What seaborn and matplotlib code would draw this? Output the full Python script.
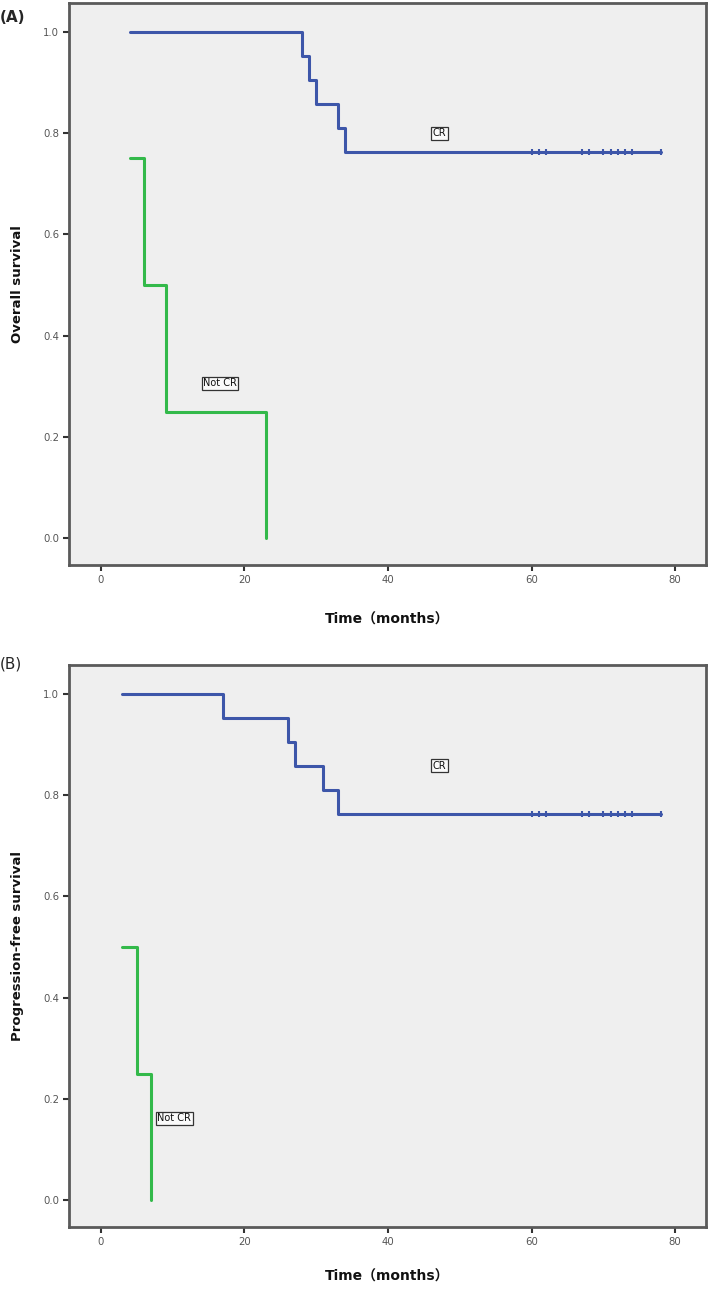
import matplotlib
matplotlib.use("Agg")
import matplotlib.pyplot as plt
import seaborn as sns
import pandas as pd

# ---- data ----
# Panel A: overall survival
os_cr_time = [4, 28, 29, 30, 33, 34, 78]
os_cr_surv = [1.0, 0.952, 0.905, 0.857, 0.810, 0.762, 0.762]
os_ncr_time = [4, 6, 9, 23]
os_ncr_surv = [0.75, 0.50, 0.25, 0.0]

# Panel B: progression-free survival
pfs_cr_time = [3, 17, 26, 27, 31, 33, 78]
pfs_cr_surv = [1.0, 0.952, 0.905, 0.857, 0.810, 0.762, 0.762]
pfs_ncr_time = [3, 5, 7]
pfs_ncr_surv = [0.50, 0.25, 0.0]

# censored observations (CR group, both panels)
censor_time = [60, 61, 62, 67, 68, 70, 71, 72, 73, 74, 78]
censor_surv = 0.762

x_ticks = [0, 20, 40, 60, 80]
y_ticks = [0.0, 0.2, 0.4, 0.6, 0.8, 1.0]

BLUE = "#3d56a9"
GREEN = "#33b94a"

sns.set_theme(style="white")
plt.rcParams["font.family"] = ["DejaVu Sans", "Noto Sans CJK SC"]

fig = plt.figure(figsize=(7.09, 12.91), dpi=100)
W, H = 709, 1291


def add_axes(left, top, right, bottom):
    return fig.add_axes([left / W, 1 - bottom / H, (right - left) / W, (bottom - top) / H])


axA = add_axes(69, 3, 706, 565)
axB = add_axes(69, 665, 706, 1227)


def draw(ax, cr_t, cr_s, ncr_t, ncr_s, ylabel, cr_lab, ncr_lab, xlab_y):
    ax.set_facecolor("#efefef")
    d1 = pd.DataFrame({"t": cr_t, "s": cr_s})
    d2 = pd.DataFrame({"t": ncr_t, "s": ncr_s})
    sns.lineplot(data=d1, x="t", y="s", ax=ax, color=BLUE, lw=2.2,
                 drawstyle="steps-post", estimator=None, sort=False)
    sns.lineplot(data=d2, x="t", y="s", ax=ax, color=GREEN, lw=2.2,
                 drawstyle="steps-post", estimator=None, sort=False)
    dc = pd.DataFrame({"t": censor_time, "s": [censor_surv] * len(censor_time)})
    sns.scatterplot(data=dc, x="t", y="s", ax=ax, marker="|", s=22,
                    color=BLUE, linewidth=1.5)
    ax.set_xlim(-4.45, 84.3)
    ax.set_ylim(-0.053, 1.057)
    ax.set_xticks(x_ticks)
    ax.set_yticks(y_ticks)
    ax.set_xticklabels([str(v) for v in x_ticks])
    ax.set_yticklabels([f"{v:.1f}" for v in y_ticks])
    ax.tick_params(axis="both", direction="out", length=4, width=1.5,
                   color="#333333", labelsize=7.3, labelcolor="#555555",
                   bottom=True, left=True, pad=3)
    for sp in ax.spines.values():
        sp.set_color("#5a5a5a")
        sp.set_linewidth(2.0)
    ax.set_xlabel("Time（months）", fontsize=10, fontweight="bold", color="#111111")
    ax.set_ylabel(ylabel, fontsize=9.5, fontweight="bold", color="#111111")
    ax.xaxis.set_label_coords(0.5, xlab_y)
    ax.yaxis.set_label_coords(-0.071, 0.5)
    box = dict(boxstyle="square,pad=0.15", fc="#fafafa", ec="#333333", lw=0.9)
    ax.text(cr_lab[0], cr_lab[1], "CR", fontsize=7, ha="center", va="center",
            color="#111111", bbox=box)
    ax.text(ncr_lab[0], ncr_lab[1], "Not CR", fontsize=7, ha="center", va="center",
            color="#111111", bbox=box)


draw(axA, os_cr_time, os_cr_surv, os_ncr_time, os_ncr_surv,
     "Overall survival", (47.2, 0.80), (16.6, 0.306), -0.084)
draw(axB, pfs_cr_time, pfs_cr_surv, pfs_ncr_time, pfs_ncr_surv,
     "Progression-free survival", (47.2, 0.858), (10.2, 0.162), -0.075)

fig.text(0.0, 1 - 18 / H, "(A)", fontsize=11, fontweight="bold", ha="left", va="center")
fig.text(0.0, 1 - 664 / H, "(B)", fontsize=11, ha="left", va="center")

fig.savefig("out.png", dpi=100)
